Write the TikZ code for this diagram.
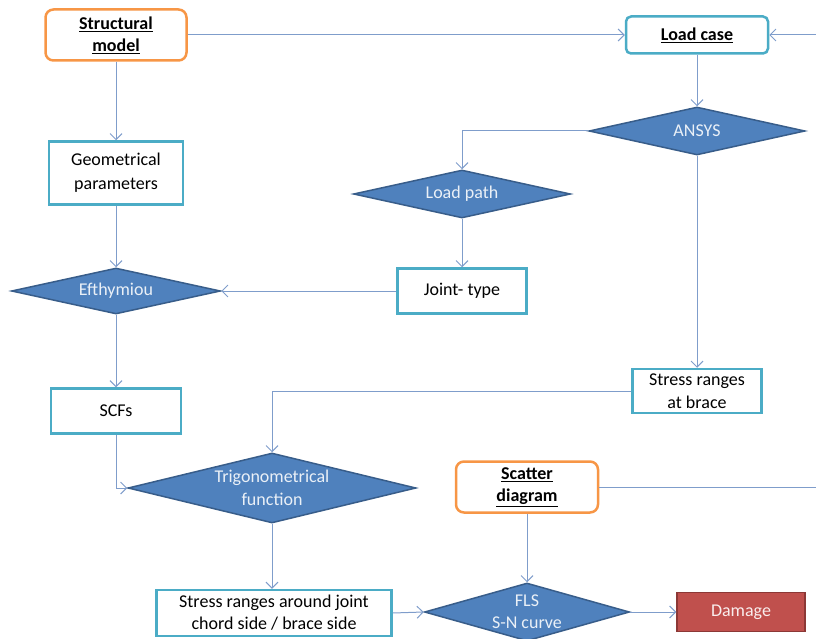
\documentclass[tikz,border=0pt]{standalone}
\usepackage{fontspec}
\setmainfont{Carlito}
\usetikzlibrary{shapes.geometric,arrows.meta}
\definecolor{teal}{HTML}{4BACC6}
\definecolor{orng}{HTML}{F79646}
\definecolor{dfill}{HTML}{4F81BD}
\definecolor{dline}{HTML}{385D8A}
\definecolor{conn}{HTML}{7F9DCB}
\definecolor{rfill}{HTML}{C0504D}
\definecolor{rline}{HTML}{8C3836}
\begin{document}
\begin{tikzpicture}[x=1pt,y=-1pt,
  font=\fontsize{18}{22}\selectfont,
  tbox/.style={draw=teal,line width=2.5pt,fill=white,align=center,inner sep=0pt},
  obox/.style={draw=orng,line width=2.5pt,rounded corners=8pt,fill=white,align=center,inner sep=0pt},
  dia/.style={diamond,aspect=4,draw=dline,line width=1.5pt,fill=dfill,text=white!88!dfill,align=center,inner sep=0pt},
  conn/.style={draw=conn,line width=1pt,-{Straight Barb[length=6pt,width=12pt]}},
  plain/.style={draw=conn,line width=1pt}]
\useasboundingbox (0,0) rectangle (816,639);
\node[obox,minimum width=141pt,minimum height=51pt] (sm) at (116,35) {\textbf{\underline{Structural}}\\\textbf{\underline{model}}};
\node[tbox,rounded corners=5pt,minimum width=142pt,minimum height=37pt] (lc) at (697,35) {\textbf{\underline{Load case}}};
\node[dia,minimum width=216pt,minimum height=48pt] (an) at (697,131) {ANSYS};
\node[tbox,minimum width=134pt,minimum height=63pt] (gp) at (116,173) {Geometrical\\[2pt]parameters};
\node[dia,minimum width=217pt,minimum height=48pt] (lp) at (462,194) {Load path};
\node[tbox,minimum width=129pt,minimum height=45pt] (jt) at (462,291) {Joint- type};
\node[dia,minimum width=209pt,minimum height=46pt] (ef) at (116,291) {Efthymiou};
\node[tbox,minimum width=130pt,minimum height=45pt] (scf) at (116,411) {SCFs};
\node[tbox,minimum width=129pt,minimum height=44pt] (sb) at (697,391) {Stress ranges\\[1pt]at brace};
\node[dia,minimum width=288pt,minimum height=70pt] (tf) at (272,488) {Trigonometrical\\[1pt]function};
\node[obox,minimum width=142pt,minimum height=51pt] (sd) at (527,487) {\textbf{\underline{Scatter}}\\\textbf{\underline{diagram}}};
\node[tbox,minimum width=235pt,minimum height=46pt] (sj) at (274,613) {Stress ranges around joint\\chord side / brace side};
\node[dia,minimum width=193pt,minimum height=58pt] (fls) at (527,612) {FLS\\S-N curve};
\node[draw=rline,line width=1.5pt,fill=rfill,text=white!90!rfill,minimum width=128pt,minimum height=39pt,inner sep=0pt] (dm) at (741,612) {Damage};
\coordinate (r1) at (816,35);
\coordinate (r2) at (816,487);
% connectors
\draw[conn] (sm.east) -- (lc.west);
\draw[conn] (r1) -- (lc.east);
\draw[conn] (lc.south) -- (an.north);
\draw[conn] (an.west) -| (lp.north);
\draw[conn] (lp.south) -- (jt.north);
\draw[conn] (jt.west) -- (ef.east);
\draw[conn] (sm.south) -- (gp.north);
\draw[conn] (gp.south) -- (ef.north);
\draw[conn] (ef.south) -- (scf.north);
\draw[conn] (scf.south) |- (tf.west);
\draw[conn] (an.south) -- (sb.north);
\draw[conn] (sb.west) -| (tf.north);
\draw[conn] (tf.south) -- (sj.north -| tf.south);
\draw[conn] (sj.east) -- (fls.west);
\draw[conn] (sd.south) -- (fls.north);
\draw[plain] (sd.east) -- (r2);
\draw[conn] (fls.east) -- (dm.west);
\end{tikzpicture}
\end{document}
